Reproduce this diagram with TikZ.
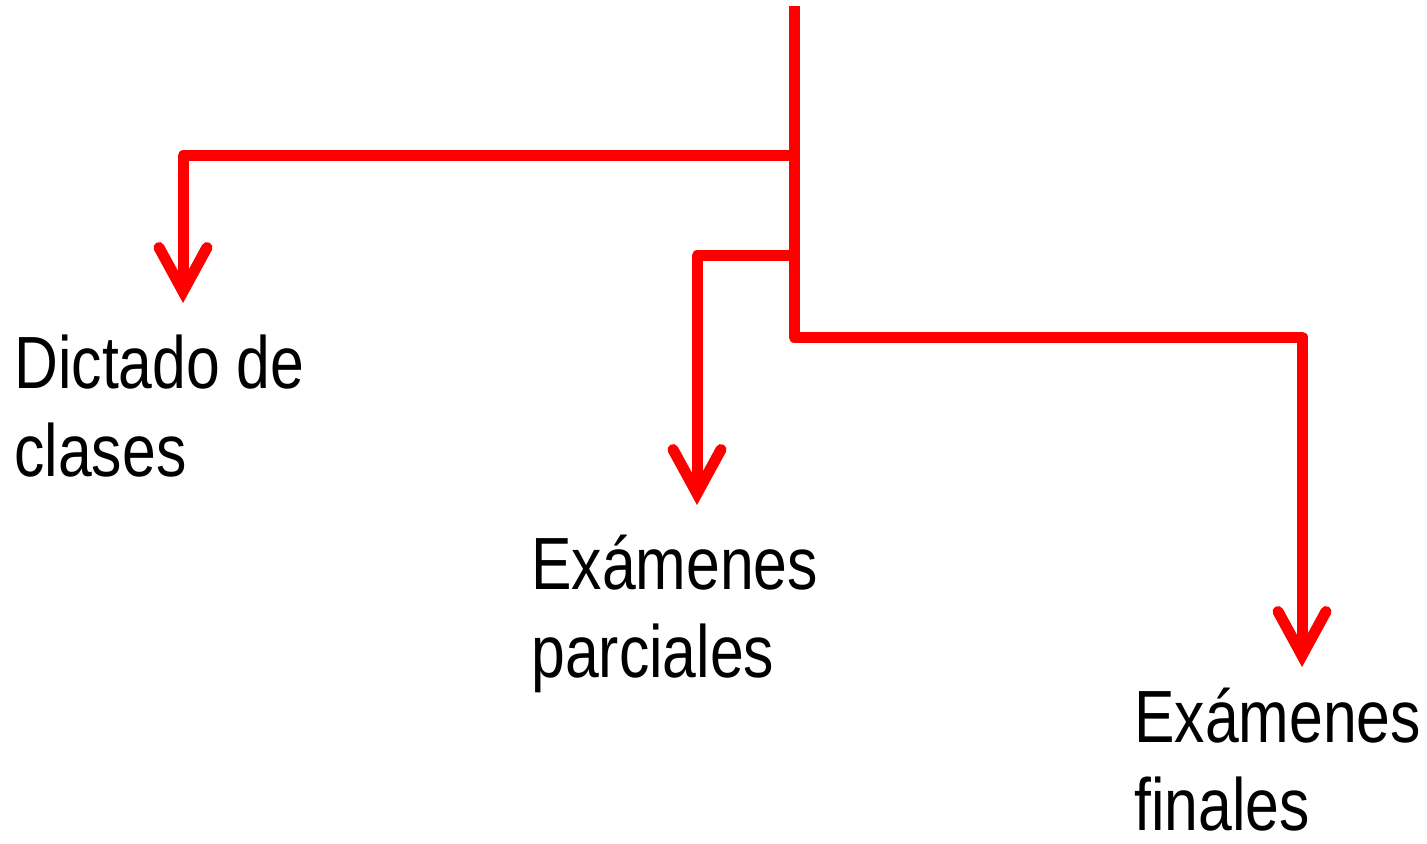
\documentclass[tikz,border=0pt]{standalone}
\usepackage{fontspec}
\setmainfont{Liberation Sans}[FakeStretch=0.82]
\usetikzlibrary{arrows.meta}

\begin{document}
\begin{tikzpicture}[x=0.5pt,y=-0.5pt]
                        \tikzstyle{branch}=[draw=red, line width=5.5pt, line join=round]
                        \tikzstyle{tipped}=[branch, -{Straight Barb[length=22pt,width=24pt,line cap=round,line join=miter]}]
                        \tikzstyle{label}=[inner sep=0pt, anchor=base west, align=left, font=\fontsize{37}{44}\selectfont]
                        \useasboundingbox (0,0) rectangle (1427,844);
                        \coordinate (top) at (794,6);
                        \coordinate (split1) at (794,156);
                        \coordinate (split2) at (794,256);
                        \coordinate (split3) at (794,337);
                        \coordinate (tip1) at (183,303);
                        \coordinate (tip2) at (697,505);
                        \coordinate (tip3) at (1302,667);
                        \node[label] (clases) at (14,476) {Dictado de\\clases};
                        \node[label] (parciales) at (531,677) {Exámenes\\parciales};
                        \node[label] (finales) at (1134,830) {Exámenes\\finales};
                        \draw[tipped] (top) -- (split3) -| (tip3);
                        \draw[tipped] (split1) -| (tip1);
                        \draw[tipped] (split2) -| (tip2);
                    \end{tikzpicture}
\end{document}
